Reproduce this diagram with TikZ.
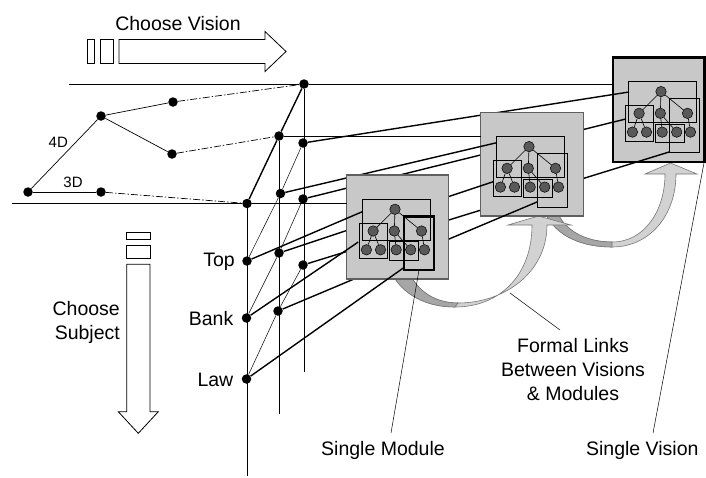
\documentclass[tikz,border=0pt]{standalone}
\usepackage{fontspec}
\setmainfont{Liberation Sans}
\definecolor{boxgray}{HTML}{C8C8C8}
\definecolor{ballgray}{HTML}{595959}
\definecolor{rib}{HTML}{D2D2D2}
\definecolor{ribdark}{HTML}{A6A6A6}
\definecolor{ribline}{HTML}{777777}
\definecolor{boxline}{HTML}{606060}
\newcommand\vmodule[4]{%
\begin{scope}[shift={(#2,#3)}]
 \draw[inrect] (16,24.5) rectangle (83.6,65);
 \draw[inrect] (12.4,48.2) rectangle (40.5,83.7);
 \draw[inrect] (42.6,66.8) rectangle (71.5,85);
 \draw[#4] (57,41.3) rectangle (87,95);
 \node[ball] (#1r) at (48.3,34.3) {};
 \node[ball] (#1a) at (26.4,56) {};
 \node[ball] (#1b) at (47.6,56) {};
 \node[ball] (#1c) at (74.8,56) {};
 \node[ball] (#1d) at (19.7,74.8) {};
 \node[ball] (#1e) at (33.8,74.8) {};
 \node[ball] (#1f) at (49.5,74.8) {};
 \node[ball] (#1g) at (64,74.8) {};
 \node[ball] (#1h) at (77.8,74.8) {};
 \draw[treeln] (#1r) -- (#1a);
 \draw[treeln] (#1r) -- (#1b);
 \draw[treeln] (#1r) -- (#1c);
 \draw[treeln] (#1a) -- (#1d);
 \draw[treeln] (#1a) -- (#1e);
 \draw[treeln] (#1b) -- (#1f);
 \draw[treeln] (#1b) -- (#1g);
 \draw[treeln] (#1c) -- (#1h);
\end{scope}}
\begin{document}
\begin{tikzpicture}[x=1pt,y=-1pt,
 bigdot/.style={circle,fill=black,inner sep=0pt,minimum size=9.5pt},
 ball/.style={circle,fill=ballgray,draw=black,line width=0.5pt,inner sep=0pt,minimum size=10.5pt},
 thinln/.style={line width=0.7pt},
 hairln/.style={line width=0.5pt},
 thickln/.style={line width=1.4pt},
 gridln/.style={line width=0.9pt},
 dashdot/.style={line width=0.7pt,dash pattern=on 7pt off 2pt on 1.5pt off 2pt},
 modbox/.style={fill=boxgray,draw=boxline,line width=1.1pt},
 visbox/.style={fill=boxgray,draw=black,line width=2.6pt},
 inrect/.style={draw=black,line width=0.8pt},
 thinrect/.style={draw=black,line width=0.8pt},
 thickrect/.style={draw=black,line width=2.4pt},
 treeln/.style={line width=0.6pt},
 lbl/.style={font=\fontsize{19.5}{24}\selectfont,inner sep=0pt},
 lblsmall/.style={font=\fontsize{15}{18}\selectfont,inner sep=0pt},
 ribbon/.style={fill=rib,draw=ribline,line width=0.6pt},
 ribshade/.style={fill=ribdark,draw=ribline,line width=0.6pt},
 hollow/.style={draw=black,fill=white,line width=0.8pt},
]
\useasboundingbox (0,0) rectangle (706,477);

% ---- big hollow arrows
\draw[hollow] (87,39.5) rectangle (94,63.5);
\draw[hollow] (100,39.5) rectangle (113,63.5);
\draw[hollow] (119,39.5) -- (265,39.5) -- (265,31.5) -- (286,51.5) -- (265,71.5) -- (265,63.5) -- (119,63.5) -- cycle;
\node[lbl] (cv) at (178,23.5) {Choose Vision};

\draw[hollow] (126.7,232.3) rectangle (150,239.3);
\draw[hollow] (126.7,245) rectangle (150,258.3);
\draw[hollow] (126.7,264.3) -- (150,264.3) -- (150,411.7) -- (158.3,411.7) -- (138.3,433.3) -- (118.3,411.7) -- (126.7,411.7) -- cycle;
\node[lbl,align=right,anchor=east] (cs) at (120,322.5) {Choose\\Subject};

% ---- nodes
\node[bigdot] (A) at (28,192) {};
\node[bigdot] (B) at (101,192) {};
\node[bigdot] (C) at (101,116) {};
\node[bigdot] (D) at (173,102) {};
\node[bigdot] (E) at (172,154) {};
\node[bigdot] (F) at (304,84) {};
\node[bigdot] (G) at (279,136) {};
\node[bigdot] (H) at (247,203.5) {};
\node[bigdot] (I) at (303,143) {};
\node[bigdot] (J) at (280.5,193.5) {};
\node[bigdot] (K) at (303,199) {};
\node[bigdot] (Top) at (247,261) {};
\node[bigdot] (L2) at (279,253) {};
\node[bigdot] (L3) at (303,265) {};
\node[bigdot] (Bank) at (246.5,318) {};
\node[bigdot] (L5) at (278,311) {};
\node[bigdot] (Law) at (246.5,379) {};

\node[lblsmall] (l4d) at (58.3,142.7) {4D};
\node[lblsmall] (l3d) at (73,182.7) {3D};
\node[lbl,anchor=east] (tTop) at (235,261.5) {Top};
\node[lbl,anchor=east] (tBank) at (233.5,318.5) {Bank};
\node[lbl,anchor=east] (tLaw) at (233.5,379.5) {Law};

\coordinate (tl) at (69,84);
\coordinate (bl) at (12,203.5);
\coordinate (v3b) at (304,372);
\coordinate (v2b) at (279,414);
\coordinate (v1b) at (247,476);

% ---- left network
\draw[thinln] (A) -- (B);
\draw[thinln] (A) -- (C);
\draw[thinln] (C) -- (D);
\draw[thinln] (C) -- (E);
\draw[dashdot] (D) -- (F);
\draw[dashdot] (E) -- (G);
\draw[dashdot] (B) -- (H);
\draw[gridln] (tl) -- (F);
\draw[gridln] (bl) -- (H);
\draw[gridln] (F) -- (v3b);
\draw[gridln] (G) -- (v2b);
\draw[gridln] (H) -- (v1b);
\draw[thickln] (F) -- (G) -- (H);
\draw[hairln] (I) -- (J) -- (Top);
\draw[hairln] (K) -- (L2) -- (Bank);
\draw[hairln] (L3) -- (L5) -- (Law);

% ---- ribbon arrows (formal links)
\draw[ribbon] (546,214) .. controls (556,236) and (582,247) .. (612,247) .. controls (650,247) and (676,215) .. (676,174) -- (697,174) -- (670.5,163) -- (645,174) -- (665,174) .. controls (665,210) and (645,242) .. (612,242) .. controls (590,242) and (568,234) .. (558,214) -- cycle;
\draw[ribshade] (546,214) .. controls (556,236) and (582,247) .. (612,247) -- (612,242) .. controls (590,242) and (568,234) .. (558,214) -- cycle;
\draw[ribbon] (390,270) .. controls (402,296) and (428,307) .. (455,307) .. controls (500,307) and (532,275) .. (532,225) -- (508,225) -- (538.5,216) -- (571,225) -- (547,225) .. controls (547,272) and (505,303) .. (458,303) .. controls (438,303) and (418,294) .. (408,270) -- cycle;
\draw[ribshade] (390,270) .. controls (402,296) and (428,307) .. (455,307) -- (458,303) .. controls (438,303) and (418,294) .. (408,270) -- cycle;

% ---- vision (box 3)
\draw[visbox] (613,57.3) rectangle (704.5,162);
\vmodule{m3}{612.7}{57.3}{thinrect}
\coordinate (m3w) at (613,84);
\coordinate (m3up) at (629,92);
\coordinate (m3lg) at (625.7,119);
\coordinate (m3rr) at (670,151.7);
\draw[gridln] (F) -- (m3w);
\draw[thickln] (I) -- (m3up);
\draw[thickln] (K) -- (m3lg);
\draw[thickln] (L3) -- (m3rr);

% ---- box 2
\draw[modbox] (480.7,112.3) rectangle (583.3,216);
\vmodule{m2}{480.7}{112.3}{thinrect}
\coordinate (m2w) at (480.7,136);
\coordinate (m2up) at (496.7,142.7);
\coordinate (m2lg) at (493.3,181.7);
\coordinate (m2rr) at (537.7,201.7);
\draw[gridln] (G) -- (m2w);
\draw[thickln] (J) -- (m2up);
\draw[thickln] (L2) -- (m2lg);
\draw[thickln] (L5) -- (m2rr);

% ---- box 1
\draw[modbox] (346.7,175) rectangle (448.3,279);
\vmodule{m1}{346.7}{175}{thickrect}
\coordinate (m1w) at (346.7,203.5);
\coordinate (m1up) at (362.3,211.7);
\coordinate (m1lg) at (358.3,242);
\coordinate (m1rr) at (403.3,268);
\draw[gridln] (H) -- (m1w);
\draw[thickln] (Top) -- (m1up);
\draw[thickln] (Bank) -- (m1lg);
\draw[thickln] (Law) -- (m1rr);

% ---- callouts
\node[lbl,align=center] (fl) at (573,370) {Formal Links\\Between Visions\\\& Modules};
\node[lbl] (sm) at (383,450) {Single Module};
\node[lbl] (sv) at (642.3,450) {Single Vision};
\coordinate (flp1) at (510,293);
\coordinate (flp2) at (560,330);
\coordinate (smp1) at (419,270);
\coordinate (smp2) at (391,433);
\coordinate (svp1) at (704,163);
\coordinate (svp2) at (653,433);
\draw[hairln] (flp1) -- (flp2);
\draw[hairln] (smp1) -- (smp2);
\draw[hairln] (svp1) -- (svp2);
\end{tikzpicture}
\end{document}
